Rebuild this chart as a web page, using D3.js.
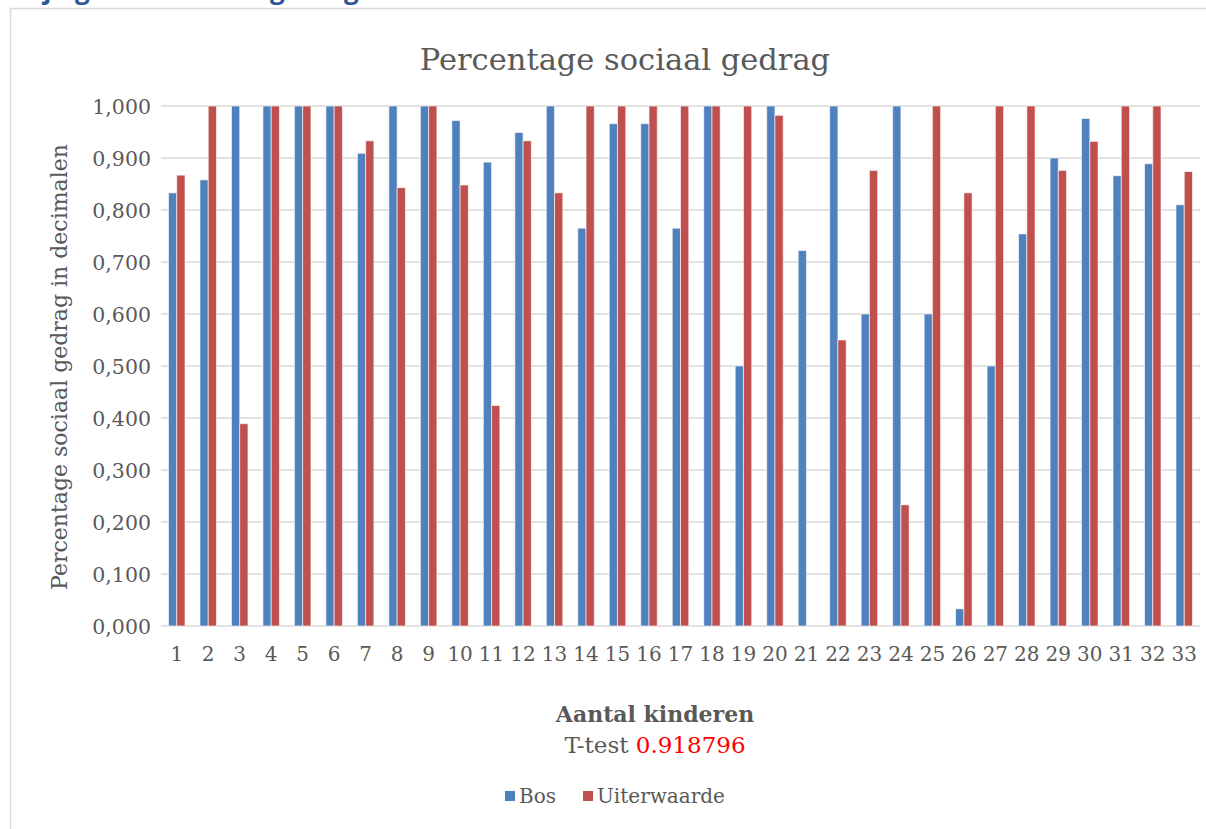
<!DOCTYPE html>
<html>
<head>
<meta charset="utf-8">
<script src="https://cdn.jsdelivr.net/npm/d3@7/dist/d3.min.js"></script>
<style>
  html, body { margin: 0; padding: 0; background: #ffffff; }
  svg { display: block; }
  text { font-family: "DejaVu Serif", "Liberation Serif", serif; fill: #595959; }
</style>
</head>
<body>
<svg id="chart" width="1206" height="829"></svg>
<script>
// Children (1..33) and their share of social behaviour per environment
const categories = d3.range(1, 34).map(String);
const seriesNames = ["Bos", "Uiterwaarde"];
const bosValues = [
  0.833, 0.858, 1.000, 1.000, 1.000, 1.000, 0.909, 1.000, 1.000, 0.972,
  0.892, 0.949, 1.000, 0.765, 0.966, 0.966, 0.765, 1.000, 0.500, 1.000,
  0.722, 1.000, 0.600, 1.000, 0.600, 0.033, 0.500, 0.754, 0.900, 0.976,
  0.866, 0.889, 0.810
];
const uiterwaardeValues = [
  0.867, 1.000, 0.389, 1.000, 1.000, 1.000, 0.933, 0.843, 1.000, 0.848,
  0.424, 0.933, 0.833, 1.000, 1.000, 1.000, 1.000, 1.000, 1.000, 0.982,
  0.000, 0.550, 0.876, 0.233, 1.000, 0.833, 1.000, 1.000, 0.876, 0.932,
  1.000, 1.000, 0.874
];
const yTicks = [0, 0.1, 0.2, 0.3, 0.4, 0.5, 0.6, 0.7, 0.8, 0.9, 1.0];
const tTestValue = "0.918796";

const colors = { "Bos": "#4F81BD", "Uiterwaarde": "#C0504D" };
const rows = categories.map((c, i) => ({
  cat: c,
  values: [
    { key: "Bos", value: bosValues[i] },
    { key: "Uiterwaarde", value: uiterwaardeValues[i] }
  ]
}));

const svg = d3.select("#chart");

// Document heading above the chart frame (only its lower part is on the page)
const heading = svg.append("g")
  .style("font-family", "'Open Sans', 'Liberation Sans', sans-serif")
  .style("font-weight", "700")
  .style("font-size", "26px");
heading.append("text").attr("x", 18).attr("y", -1)
  .style("fill", "#2F5597").style("font-family", "inherit").text("Bijlage 3");
heading.append("text").attr("x", 270).attr("y", -1)
  .style("fill", "#2F5597").style("font-family", "inherit").text("gedrag");

// Chart frame (left and top edges visible)
svg.append("path")
  .attr("d", "M10.5,829 L10.5,8.5 L1206,8.5")
  .attr("fill", "none").attr("stroke", "#D9D9D9").attr("stroke-width", 1.5);

const plot = { left: 161, right: 1200, top: 106, bottom: 626 };

const x0 = d3.scaleBand().domain(categories).range([plot.left, plot.right]).paddingInner(0.476).paddingOuter(0.238);
const x1 = d3.scaleBand().domain(seriesNames).range([0, x0.bandwidth()]);
const y = d3.scaleLinear().domain([0, 1]).range([plot.bottom, plot.top]);

// Horizontal gridlines
svg.append("g").selectAll("line").data(yTicks).join("line")
  .attr("x1", plot.left).attr("x2", plot.right)
  .attr("y1", d => y(d)).attr("y2", d => y(d))
  .attr("stroke", "#D9D9D9").attr("stroke-width", 1.5);

// Bars
const groups = svg.append("g").selectAll("g").data(rows).join("g")
  .attr("transform", d => `translate(${x0(d.cat)},0)`);
groups.selectAll("rect").data(d => d.values.filter(v => v.value > 0)).join("rect")
  .attr("x", d => x1(d.key))
  .attr("width", x1.bandwidth())
  .attr("y", d => y(d.value))
  .attr("height", d => y(0) - y(d.value))
  .attr("fill", d => colors[d.key])
  .attr("stroke", "#ffffff").attr("stroke-opacity", 0.6).attr("stroke-width", 1);

// Y axis labels
const fmt = v => d3.format(".3f")(v).replace(".", ",");
const yAxis = d3.axisLeft(y).tickValues(yTicks).tickFormat(fmt).tickSize(0).tickPadding(0);
const yg = svg.append("g").attr("transform", `translate(151,0)`).call(yAxis);
yg.select(".domain").remove();
yg.selectAll("text").style("font-size", "20.5px").style("font-family", "'DejaVu Serif', serif").attr("fill", "#595959").attr("dy", "0.35em");

// X axis labels
const xAxis = d3.axisBottom(x0).tickSize(0).tickPadding(0);
const xg = svg.append("g").attr("transform", `translate(0,647)`).call(xAxis);
xg.select(".domain").remove();
xg.selectAll("text").style("font-size", "20px").style("font-family", "'DejaVu Serif', serif").attr("fill", "#595959").attr("dy", "0.71em");

// Title
svg.append("text").attr("x", 625).attr("y", 70).attr("text-anchor", "middle")
  .style("font-size", "30.5px").text("Percentage sociaal gedrag");

// Y axis title
svg.append("text").attr("transform", "translate(67,367) rotate(-90)")
  .attr("text-anchor", "middle").style("font-size", "22px")
  .text("Percentage sociaal gedrag in decimalen");

// X axis title and t-test
svg.append("text").attr("x", 655).attr("y", 722).attr("text-anchor", "middle")
  .style("font-size", "22px").style("font-weight", "700").text("Aantal kinderen");
const tt = svg.append("text").attr("x", 655).attr("y", 753).attr("text-anchor", "middle")
  .style("font-size", "23px");
tt.append("tspan").text("T-test ");
tt.append("tspan").style("fill", "#FF0000").text(tTestValue);

// Legend
const legendItems = [
  { key: "Bos", x: 505 },
  { key: "Uiterwaarde", x: 583 }
];
const lg = svg.append("g").selectAll("g").data(legendItems).join("g")
  .attr("transform", d => `translate(${d.x},791)`);
lg.append("rect").attr("width", 10).attr("height", 10).attr("fill", d => colors[d.key]);
lg.append("text").attr("x", 14).attr("y", 5).attr("dy", "0.35em")
  .style("font-size", "20px").text(d => d.key);
</script>
</body>
</html>
